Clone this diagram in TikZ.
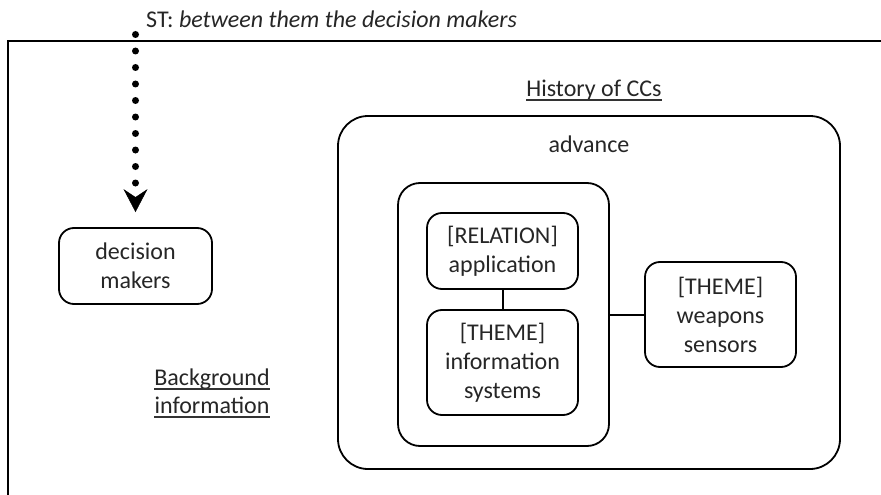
\documentclass[tikz,border=0pt]{standalone}
\usepackage{fontspec}
\setmainfont{Carlito}
\usetikzlibrary{arrows.meta}
\begin{document}
\begin{tikzpicture}[x=1pt,y=-1pt,
  every node/.style={font=\fontsize{24}{29}\selectfont, text=black!85},
  box/.style={draw, line width=1.8pt, rounded corners=15pt, align=center, inner sep=0pt},
  framerule/.style={line width=1.8pt},
  txt/.style={inner sep=0pt, anchor=base},
  uline/.style={line width=1.2pt, black!80},
  link/.style={line width=2pt},
  dotarrow/.style={line width=7pt, line cap=round, dash pattern=on 0pt off 16.5pt,
    -{Stealth[length=23pt,width=24pt,inset=8pt,line width=0.5pt]}}
]
\useasboundingbox (0,0) rectangle (881,495);

% outer frame (open to the right and bottom)
\coordinate (frameR) at (881,41);
\coordinate (frameC) at (8,41);
\coordinate (frameB) at (8,495);
\draw[framerule] (frameR) -- (frameC) -- (frameB);

% heading of the incoming relation
\node[txt, anchor=base west] (st) at (146,28) {ST: \textit{between them the decision makers}};

% left side
\node[box, minimum width=153pt, minimum height=76pt] (dm) at (135.5,266) {decision\\makers};
\node[txt] (bg1) at (212,385) {Background};
\node[txt] (bg2) at (212,413) {information};
\draw[uline] ([yshift=-4pt]bg1.base west) -- ([yshift=-4pt]bg1.base east);
\draw[uline] ([yshift=-4pt]bg2.base west) -- ([yshift=-4pt]bg2.base east);

% dotted arrow into the decision makers
\coordinate (src) at (135.5,34.5);
\draw[dotarrow] (src) -- ([yshift=15pt]dm.north);

% history of CCs
\node[txt] (hist) at (594,96) {History of CCs};
\draw[uline] ([yshift=-4pt]hist.base west) -- ([yshift=-4pt]hist.base east);

\node[box, rounded corners=30pt, minimum width=502pt, minimum height=353pt] (cc) at (589,292.5) {};
\node[txt] (adv) at (589,152) {advance};

\node[box, rounded corners=22pt, minimum width=211pt, minimum height=263pt] (grp) at (503.5,314.5) {};
\node[box, minimum width=151pt, minimum height=76pt] (rel) at (502.5,251) {[RELATION]\\application};
\node[box, minimum width=151pt, minimum height=105pt] (info) at (502.5,362.5) {[THEME]\\information\\systems};
\node[box, minimum width=151pt, minimum height=105pt] (weap) at (720.5,314.5) {[THEME]\\weapons\\sensors};

\draw[link] (rel) -- (info);
\draw[link] (grp.east) -- (weap.west);
\end{tikzpicture}
\end{document}
